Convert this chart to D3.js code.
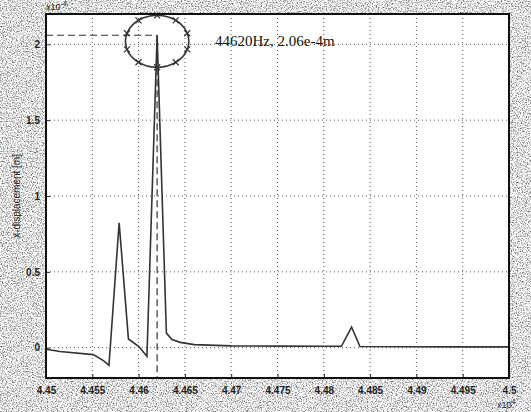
<!DOCTYPE html>
<html lang="en">
<head>
<meta charset="UTF-8">
<title>x-displacement spectrum</title>
<script src="https://d3js.org/d3.v7.min.js"></script>
<style>
    body { margin: 0; background: #fff; }
    svg { display: block; }
    .tick text { font-family: "Liberation Sans", Arial, sans-serif; font-size: 10px; font-weight: bold; fill: #222; }
    .grid line { stroke: #555; stroke-width: 1; stroke-dasharray: 1,3; }
</style>
</head>
<body>
<div id="chart"></div>
<script>
// frequency in units of 1e4 Hz, displacement in units of 1e-4 m
const freq = [4.45, 4.4515, 4.4551, 4.4562, 4.4568, 4.4579, 4.4589, 4.4600, 4.4609, 4.4620, 4.4630, 4.4636, 4.4645, 4.4660, 4.4700, 4.4750, 4.4800, 4.4819, 4.4830, 4.4839, 4.4900, 4.4950, 4.5000];
const disp = [-0.01, -0.025, -0.046, -0.085, -0.116, 0.824, 0.057, 0.009, -0.057, 2.06, 0.096, 0.053, 0.035, 0.02, 0.012, 0.01, 0.009, 0.009, 0.136, 0.008, 0.006, 0.005, 0.005];
const xTicks = [4.45, 4.455, 4.46, 4.465, 4.47, 4.475, 4.48, 4.485, 4.49, 4.495, 4.5];
const yTicks = [0, 0.5, 1, 1.5, 2];
const peak = [4.462, 2.06];
const peakLabel = "44620Hz, 2.06e-4m";
const ring = { cx: 4.462, cy: 2.02, rx: 0.00342, ry: 0.171, marks: 10 };

const width = 531, height = 412;
const margin = { top: 14, right: 22, bottom: 34, left: 46 };

const svg = d3.select("#chart").append("svg")
    .attr("width", width).attr("height", height);

// scanned-paper speckle around the axes
const defs = svg.append("defs");
const f = defs.append("filter").attr("id", "speckle")
    .attr("x", 0).attr("y", 0).attr("width", "100%").attr("height", "100%");
f.append("feTurbulence").attr("type", "fractalNoise")
    .attr("baseFrequency", 0.8).attr("numOctaves", 2).attr("seed", 7).attr("result", "n");
f.append("feColorMatrix").attr("type", "matrix")
    .attr("values", "0 0 0 0 0  0 0 0 0 0  0 0 0 0 0  2.2 0 0 0 -0.95");
svg.append("rect").attr("width", width).attr("height", height).attr("fill", "#fff");
svg.append("rect").attr("width", width).attr("height", height)
    .attr("filter", "url(#speckle)").attr("opacity", 0.75);

const x = d3.scaleLinear().domain([4.45, 4.5]).range([margin.left, width - margin.right]);
const y = d3.scaleLinear().domain([-0.2, 2.2]).range([height - margin.bottom, margin.top]);

const x0 = x.range()[0], x1 = x.range()[1];
const y0 = y.range()[0], y1 = y.range()[1];

svg.append("rect")
    .attr("x", x0).attr("y", y1).attr("width", x1 - x0).attr("height", y0 - y1)
    .attr("fill", "#fff");

// grid
const grid = svg.append("g").attr("class", "grid");
grid.selectAll(".gx").data(xTicks.slice(1, -1)).enter().append("line")
    .attr("x1", d => x(d)).attr("x2", d => x(d)).attr("y1", y1).attr("y2", y0);
grid.selectAll(".gy").data(yTicks).enter().append("line")
    .attr("x1", x0).attr("x2", x1).attr("y1", d => y(d)).attr("y2", d => y(d));

// axes
const fmt = d => String(+d.toFixed(3));
svg.append("g").attr("transform", `translate(0,${y0})`)
    .call(d3.axisBottom(x).tickValues(xTicks).tickFormat(fmt).tickSizeInner(-4).tickSizeOuter(0).tickPadding(9))
    .call(g => g.select(".domain").remove())
    .call(g => g.selectAll(".tick line").attr("stroke", "#222"));
svg.append("g").attr("transform", `translate(${x0},0)`)
    .call(d3.axisLeft(y).tickValues(yTicks).tickFormat(fmt).tickSizeInner(-4).tickSizeOuter(0).tickPadding(6))
    .call(g => g.select(".domain").remove())
    .call(g => g.selectAll(".tick line").attr("stroke", "#222"));

// peak marker lines
svg.append("line")
    .attr("x1", x0).attr("x2", x(peak[0])).attr("y1", y(peak[1])).attr("y2", y(peak[1]))
    .attr("stroke", "#333").attr("stroke-width", 1.2).attr("stroke-dasharray", "7,4");
svg.append("line")
    .attr("x1", x(peak[0])).attr("x2", x(peak[0])).attr("y1", y(peak[1])).attr("y2", y0)
    .attr("stroke", "#333").attr("stroke-width", 1.2).attr("stroke-dasharray", "7,4");

// spectrum
const line = d3.line().x(d => x(d[0])).y(d => y(d[1]));
svg.append("path")
    .datum(d3.zip(freq, disp))
    .attr("fill", "none").attr("stroke", "#333").attr("stroke-width", 1.6)
    .attr("d", line);

// ring around the peak
const ang = d3.range(0, 361, 5).map(a => a * Math.PI / 180);
svg.append("path")
    .datum(ang.map(a => [ring.cx + ring.rx * Math.cos(a), ring.cy + ring.ry * Math.sin(a)]))
    .attr("fill", "none").attr("stroke", "#333").attr("stroke-width", 1.6)
    .attr("d", line);
const markAng = d3.range(ring.marks).map(i => (i + 0.5) * 2 * Math.PI / ring.marks);
svg.selectAll(".mk").data(markAng).enter().append("path")
    .attr("transform", a => `translate(${x(ring.cx + ring.rx * Math.cos(a))},${y(ring.cy + ring.ry * Math.sin(a))})`)
    .attr("d", "M-3,-3L3,3M-3,3L3,-3")
    .attr("stroke", "#333").attr("stroke-width", 1.2);

svg.append("text")
    .attr("x", 215).attr("y", y(2.0) + 2)
    .attr("font-family", "Liberation Serif, Times New Roman, serif")
    .attr("font-size", 15).attr("fill", "#111")
    .text(peakLabel);

// frame
svg.append("rect")
    .attr("x", x0).attr("y", y1).attr("width", x1 - x0).attr("height", y0 - y1)
    .attr("fill", "none").attr("stroke", "#111").attr("stroke-width", 2);

// exponent labels and y title
const sans = "Liberation Sans, Arial, sans-serif";
const ex1 = svg.append("text").attr("x", x0).attr("y", 10)
    .attr("font-family", sans).attr("font-size", 9).attr("fill", "#222").text("x10");
ex1.append("tspan").attr("dy", -4).attr("font-size", 7).text("-4");
const ex2 = svg.append("text").attr("x", x1 - 12).attr("y", 408)
    .attr("font-family", sans).attr("font-size", 9).attr("fill", "#222").text("x10");
ex2.append("tspan").attr("dy", -4).attr("font-size", 7).text("4");

svg.append("text")
    .attr("transform", `translate(20,${y(1.0)}) rotate(-90)`)
    .attr("text-anchor", "middle")
    .attr("font-family", sans).attr("font-size", 10).attr("fill", "#222")
    .text("x-displacement [m]");
</script>
</body>
</html>
